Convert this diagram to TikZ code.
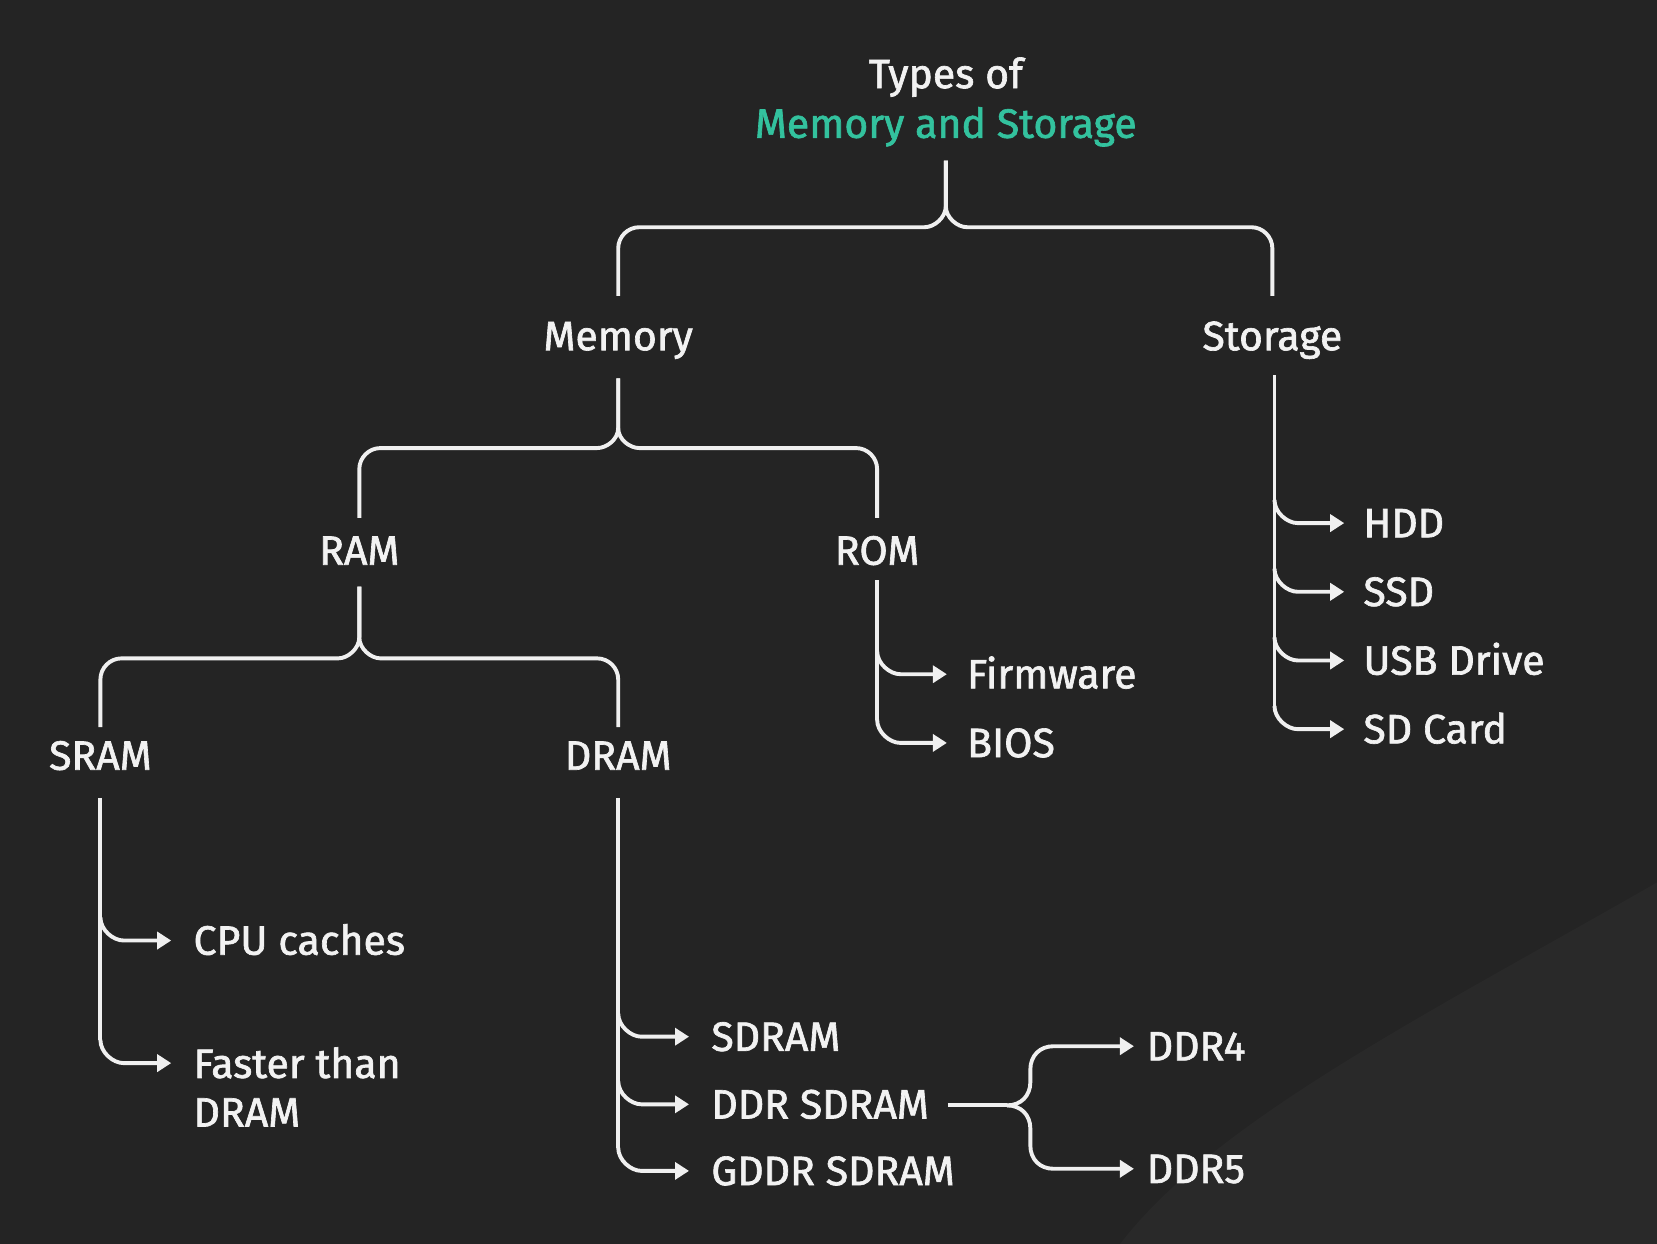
\documentclass[tikz,border=0pt]{standalone}
\usepackage{fontspec}
\setmainfont{Fira Sans}[FakeBold=1.6]
\usetikzlibrary{calc,arrows.meta}
\definecolor{bgc}{HTML}{242424}
\definecolor{bgl}{HTML}{292929}
\definecolor{txt}{HTML}{F2F2F2}
\definecolor{tealc}{HTML}{33C29E}
\definecolor{linec}{HTML}{F0F0F0}
\begin{document}
\begin{tikzpicture}[x=1.0568pt,y=-1.0568pt,
  conn/.style={draw=linec, line width=3.9pt},
  arr/.style={conn, -{Triangle[width=17pt,length=14pt]}},
  lbl0/.style={text=txt, font=\fontsize{41}{48}\selectfont, inner sep=0pt},
  lbl/.style={lbl0, text height=28.3pt, text depth=0pt},
  leaf/.style={lbl, anchor=west}]
\useasboundingbox (0,0) rectangle (1568,1177);
\fill[bgc] (0,0) rectangle (1568,1177);
\fill[bgl] (1568,835) .. controls (1350,960) and (1150,1060) .. (1060,1177) -- (1568,1177) -- cycle;

% nodes
\node[lbl] (title1) at (895,70) {Types of};
\node[lbl,text=tealc] (title2) at (895,117) {Memory and Storage};
\node[lbl] (mem) at (585,318) {Memory};
\node[lbl] (sto) at (1204,318) {Storage};
\node[lbl] (ram) at (340,521) {RAM};
\node[lbl] (rom) at (830,521) {ROM};
\node[lbl] (sram) at (95,715) {SRAM};
\node[lbl] (dram) at (585,715) {DRAM};
\node[leaf] (cpu) at (183,890) {CPU caches};
\node[lbl0,anchor=base west,align=left,font=\fontsize{41}{48.6}\selectfont] (fast) at (183,1066) {Faster than\\DRAM};
\node[leaf] (sdram) at (673,981) {SDRAM};
\node[leaf] (ddr) at (673,1045) {DDR SDRAM};
\node[leaf] (gddr) at (673,1108) {GDDR SDRAM};
\node[leaf] (ddr4) at (1085,990) {DDR4};
\node[leaf] (ddr5) at (1085,1106) {DDR5};
\node[leaf] (fw) at (915,638) {Firmware};
\node[leaf] (bios) at (915,703) {BIOS};
\node[leaf] (hdd) at (1290,495) {HDD};
\node[leaf] (ssd) at (1290,560) {SSD};
\node[leaf] (usb) at (1290,625) {USB Drive};
\node[leaf] (sd) at (1290,690) {SD Card};

% braces
\draw[conn] ($(title2)+(0,35)$) -- ++(0,43) .. controls +(0,11) and +(9,0) .. ++(-20,20)
  -- ($(mem)+(20,-103)$) .. controls +(-11,0) and +(0,-11) .. ++(-20,20) -- ($(mem)+(0,-38)$);
\draw[conn] ($(title2)+(0,35)$) -- ++(0,43) .. controls +(0,11) and +(-9,0) .. ++(20,20)
  -- ($(sto)+(-20,-103)$) .. controls +(11,0) and +(0,-11) .. ++(20,20) -- ($(sto)+(0,-38)$);

\draw[conn] ($(mem)+(0,40)$) -- ++(0,47) .. controls +(0,11) and +(9,0) .. ++(-20,19)
  -- ($(ram)+(20,-97)$) .. controls +(-11,0) and +(0,-11) .. ++(-20,20) -- ($(ram)+(0,-31)$);
\draw[conn] ($(mem)+(0,40)$) -- ++(0,47) .. controls +(0,11) and +(-9,0) .. ++(20,19)
  -- ($(rom)+(-20,-97)$) .. controls +(11,0) and +(0,-11) .. ++(20,20) -- ($(rom)+(0,-31)$);

\draw[conn] ($(ram)+(0,34)$) -- ++(0,48) .. controls +(0,11) and +(9,0) .. ++(-20,20)
  -- ($(sram)+(20,-92)$) .. controls +(-11,0) and +(0,-11) .. ++(-20,20) -- ($(sram)+(0,-27)$);
\draw[conn] ($(ram)+(0,34)$) -- ++(0,48) .. controls +(0,11) and +(-9,0) .. ++(20,20)
  -- ($(dram)+(-20,-92)$) .. controls +(11,0) and +(0,-11) .. ++(20,20) -- ($(dram)+(0,-27)$);

% trunks
\coordinate (stoT) at ($(sto)+(2,37)$);
\coordinate (romT) at ($(rom)+(0,28)$);
\coordinate (sramT) at ($(sram)+(0,40)$);
\coordinate (dramT) at ($(dram)+(0,40)$);
\coordinate (fastIn) at ($(fast.base west)+(0,-60)$);

\draw[conn] (stoT) -- ($(stoT |- sd.west)+(0,-22)$);
\foreach \n in {hdd,ssd,usb,sd}
  \draw[arr] ($(stoT |- \n.west)+(0,-22)$) .. controls +(0,12) and +(-10,0) .. ($(stoT |- \n.west)+(22,0)$) -- ($(\n.west)+(-18,0)$);

\draw[conn] (romT) -- ($(romT |- bios.west)+(0,-22)$);
\foreach \n in {fw,bios}
  \draw[arr] ($(romT |- \n.west)+(0,-22)$) .. controls +(0,12) and +(-10,0) .. ($(romT |- \n.west)+(22,0)$) -- ($(\n.west)+(-19,0)$);

\draw[conn] (sramT) -- ($(sramT |- fastIn)+(0,-22)$);
\draw[arr] ($(sramT |- cpu.west)+(0,-22)$) .. controls +(0,12) and +(-10,0) .. ($(sramT |- cpu.west)+(22,0)$) -- ($(cpu.west)+(-21,0)$);
\draw[arr] ($(sramT |- fastIn)+(0,-22)$) .. controls +(0,12) and +(-10,0) .. ($(sramT |- fastIn)+(22,0)$) -- ($(fastIn)+(-21,0)$);

\draw[conn] (dramT) -- ($(dramT |- gddr.west)+(0,-22)$);
\foreach \n in {sdram,ddr,gddr}
  \draw[arr] ($(dramT |- \n.west)+(0,-22)$) .. controls +(0,12) and +(-10,0) .. ($(dramT |- \n.west)+(22,0)$) -- ($(\n.west)+(-21,0)$);

% DDR split
\coordinate (split) at ($(ddr4.west |- ddr.east)+(-110,1)$);
\draw[conn] ($(split)+(-78,0)$) -- ($(split)+(-22,0)$);
\draw[arr] ($(split)+(-22,0)$) .. controls +(13,0) and +(0,13) .. ($(split)+(0,-22)$)
  -- ($(split |- ddr4.west)+(0,22)$) .. controls +(0,-13) and +(-13,0) .. ($(split |- ddr4.west)+(22,0)$) -- ($(ddr4.west)+(-12,0)$);
\draw[arr] ($(split)+(-22,0)$) .. controls +(13,0) and +(0,-13) .. ($(split)+(0,22)$)
  -- ($(split |- ddr5.west)+(0,-22)$) .. controls +(0,13) and +(-13,0) .. ($(split |- ddr5.west)+(22,0)$) -- ($(ddr5.west)+(-12,0)$);
\end{tikzpicture}
\end{document}
